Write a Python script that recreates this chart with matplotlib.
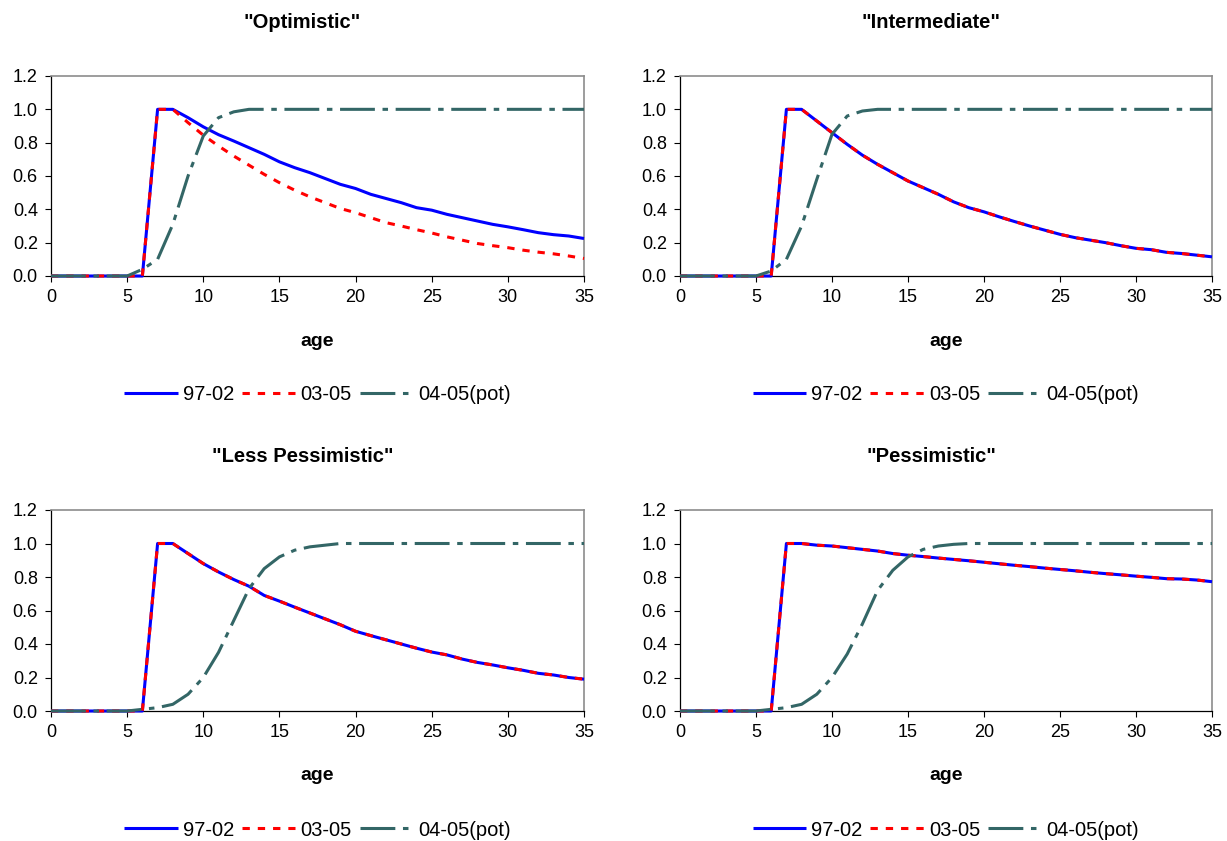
import matplotlib
matplotlib.use("Agg")
import matplotlib.pyplot as plt

plt.rcParams["font.family"] = ["Liberation Sans", "DejaVu Sans"]

age = list(range(36))

# "Optimistic"
opt_9702 = [0, 0, 0, 0, 0, 0, 0, 1.0, 1.0, 0.95, 0.895, 0.848, 0.81, 0.77, 0.73, 0.685,
            0.65, 0.62, 0.585, 0.55, 0.525, 0.49, 0.465, 0.44, 0.41, 0.395, 0.37, 0.35,
            0.33, 0.31, 0.295, 0.278, 0.26, 0.248, 0.24, 0.225]
opt_0305 = [0, 0, 0, 0, 0, 0, 0, 1.0, 1.0, 0.92, 0.845, 0.78, 0.72, 0.665, 0.61, 0.56,
            0.515, 0.475, 0.44, 0.405, 0.38, 0.35, 0.32, 0.3, 0.278, 0.258, 0.235, 0.215,
            0.195, 0.182, 0.17, 0.155, 0.143, 0.133, 0.12, 0.105]
opt_pot = [0, 0, 0, 0, 0, 0, 0.04, 0.1, 0.31, 0.6, 0.84, 0.95, 0.985, 1.0, 1.0, 1.0,
           1.0, 1.0, 1.0, 1.0, 1.0, 1.0, 1.0, 1.0, 1.0, 1.0, 1.0, 1.0, 1.0, 1.0, 1.0,
           1.0, 1.0, 1.0, 1.0, 1.0]

# "Intermediate"
int_9702 = [0, 0, 0, 0, 0, 0, 0, 1.0, 1.0, 0.93, 0.86, 0.79, 0.725, 0.67, 0.62, 0.57,
            0.53, 0.49, 0.445, 0.41, 0.385, 0.355, 0.327, 0.3, 0.275, 0.25, 0.23, 0.215,
            0.2, 0.182, 0.166, 0.158, 0.142, 0.135, 0.125, 0.115]
int_0305 = [0, 0, 0, 0, 0, 0, 0, 1.0, 1.0, 0.93, 0.86, 0.79, 0.725, 0.67, 0.62, 0.57,
            0.53, 0.49, 0.445, 0.41, 0.385, 0.355, 0.327, 0.3, 0.275, 0.25, 0.23, 0.215,
            0.2, 0.182, 0.166, 0.158, 0.142, 0.135, 0.125, 0.115]
int_pot = [0, 0, 0, 0, 0, 0, 0.03, 0.1, 0.3, 0.58, 0.85, 0.96, 0.99, 1.0, 1.0, 1.0,
           1.0, 1.0, 1.0, 1.0, 1.0, 1.0, 1.0, 1.0, 1.0, 1.0, 1.0, 1.0, 1.0, 1.0, 1.0,
           1.0, 1.0, 1.0, 1.0, 1.0]

# "Less Pessimistic"
lp_9702 = [0, 0, 0, 0, 0, 0, 0, 1.0, 1.0, 0.94, 0.88, 0.83, 0.785, 0.745, 0.69, 0.656,
           0.62, 0.585, 0.55, 0.515, 0.476, 0.45, 0.425, 0.4, 0.375, 0.352, 0.335, 0.31,
           0.29, 0.275, 0.258, 0.243, 0.225, 0.215, 0.2, 0.19]
lp_0305 = [0, 0, 0, 0, 0, 0, 0, 1.0, 1.0, 0.94, 0.88, 0.83, 0.785, 0.745, 0.69, 0.656,
           0.62, 0.585, 0.55, 0.515, 0.476, 0.45, 0.425, 0.4, 0.375, 0.352, 0.335, 0.31,
           0.29, 0.275, 0.258, 0.243, 0.225, 0.215, 0.2, 0.19]
lp_pot = [0, 0, 0, 0, 0, 0, 0.01, 0.02, 0.04, 0.1, 0.2, 0.35, 0.54, 0.73, 0.85, 0.92,
          0.96, 0.98, 0.99, 1.0, 1.0, 1.0, 1.0, 1.0, 1.0, 1.0, 1.0, 1.0, 1.0, 1.0, 1.0,
          1.0, 1.0, 1.0, 1.0, 1.0]

# "Pessimistic"
pes_9702 = [0, 0, 0, 0, 0, 0, 0, 1.0, 1.0, 0.99, 0.985, 0.975, 0.965, 0.955, 0.94, 0.93,
            0.922, 0.913, 0.905, 0.897, 0.888, 0.879, 0.87, 0.862, 0.853, 0.845, 0.837,
            0.828, 0.82, 0.813, 0.805, 0.798, 0.79, 0.788, 0.782, 0.772]
pes_0305 = [0, 0, 0, 0, 0, 0, 0, 1.0, 1.0, 0.99, 0.985, 0.975, 0.965, 0.955, 0.94, 0.93,
            0.922, 0.913, 0.905, 0.897, 0.888, 0.879, 0.87, 0.862, 0.853, 0.845, 0.837,
            0.828, 0.82, 0.813, 0.805, 0.798, 0.79, 0.788, 0.782, 0.772]
pes_pot = [0, 0, 0, 0, 0, 0, 0.01, 0.02, 0.04, 0.1, 0.2, 0.34, 0.52, 0.72, 0.84, 0.92,
           0.965, 0.985, 0.995, 1.0, 1.0, 1.0, 1.0, 1.0, 1.0, 1.0, 1.0, 1.0, 1.0, 1.0, 1.0,
           1.0, 1.0, 1.0, 1.0, 1.0]

titles = ['"Optimistic"', '"Intermediate"', '"Less Pessimistic"', '"Pessimistic"']
series = [(opt_9702, opt_0305, opt_pot), (int_9702, int_0305, int_pot),
          (lp_9702, lp_0305, lp_pot), (pes_9702, pes_0305, pes_pot)]
labels = ["97-02", "03-05", "04-05(pot)"]
xticks = [0, 5, 10, 15, 20, 25, 30, 35]
yticks = [0.0, 0.2, 0.4, 0.6, 0.8, 1.0, 1.2]

W, H = 1227, 841
fig = plt.figure(figsize=(W / 100, H / 100), dpi=100)

# panel boxes in pixels: (left, right, top, bottom)
boxes = [(51, 584, 76, 276), (680, 1212, 76, 276),
         (51, 584, 510, 711), (680, 1212, 510, 711)]

for (l, r, t, b), title, (s1, s2, s3) in zip(boxes, titles, series):
    ax = fig.add_axes([l / W, 1 - b / H, (r - l) / W, (b - t) / H])
    ph = b - t
    ax.plot(age, s1, color="#0000FF", lw=2.2, solid_capstyle="butt",
            clip_on=False, label=labels[0], zorder=3)
    ax.plot(age, s2, color="#FF0000", lw=2.2, ls=(0, (2.4, 2.6)),
            clip_on=False, label=labels[1], zorder=4)
    ax.plot(age, s3, color="#336666", lw=2.2, ls=(0, (11.4, 2.5, 1.8, 2.5)),
            clip_on=False, label=labels[2], zorder=5)
    ax.set_xlim(0, 35)
    ax.set_ylim(0, 1.2)
    ax.set_xticks(xticks)
    ax.set_yticks(yticks)
    ax.set_yticklabels([f"{v:.1f}" for v in yticks])
    ax.tick_params(axis="both", direction="out", length=4.5, width=0.8,
                   labelsize=13, colors="black", pad=5)
    for side in ("left", "bottom"):
        ax.spines[side].set_color("black")
        ax.spines[side].set_linewidth(0.9)
    for side in ("top", "right"):
        ax.spines[side].set_color("#8C8C8C")
        ax.spines[side].set_linewidth(1.2)
    ax.text(0.5 - 15 / (r - l), 1 + 54 / ph, title,
            transform=ax.transAxes, ha="center", va="center",
            fontsize=14.5, fontweight="bold")
    ax.text(0.5, -65 / ph, "age", transform=ax.transAxes, ha="center",
            va="center", fontsize=14, fontweight="bold")
    ax.legend(loc="center", bbox_to_anchor=(0.5, -119 / ph), ncol=3,
              frameon=False, fontsize=14.5, handlelength=2.65,
              handletextpad=0.25, columnspacing=0.4, borderaxespad=0)

fig.savefig("out.png", dpi=100)
